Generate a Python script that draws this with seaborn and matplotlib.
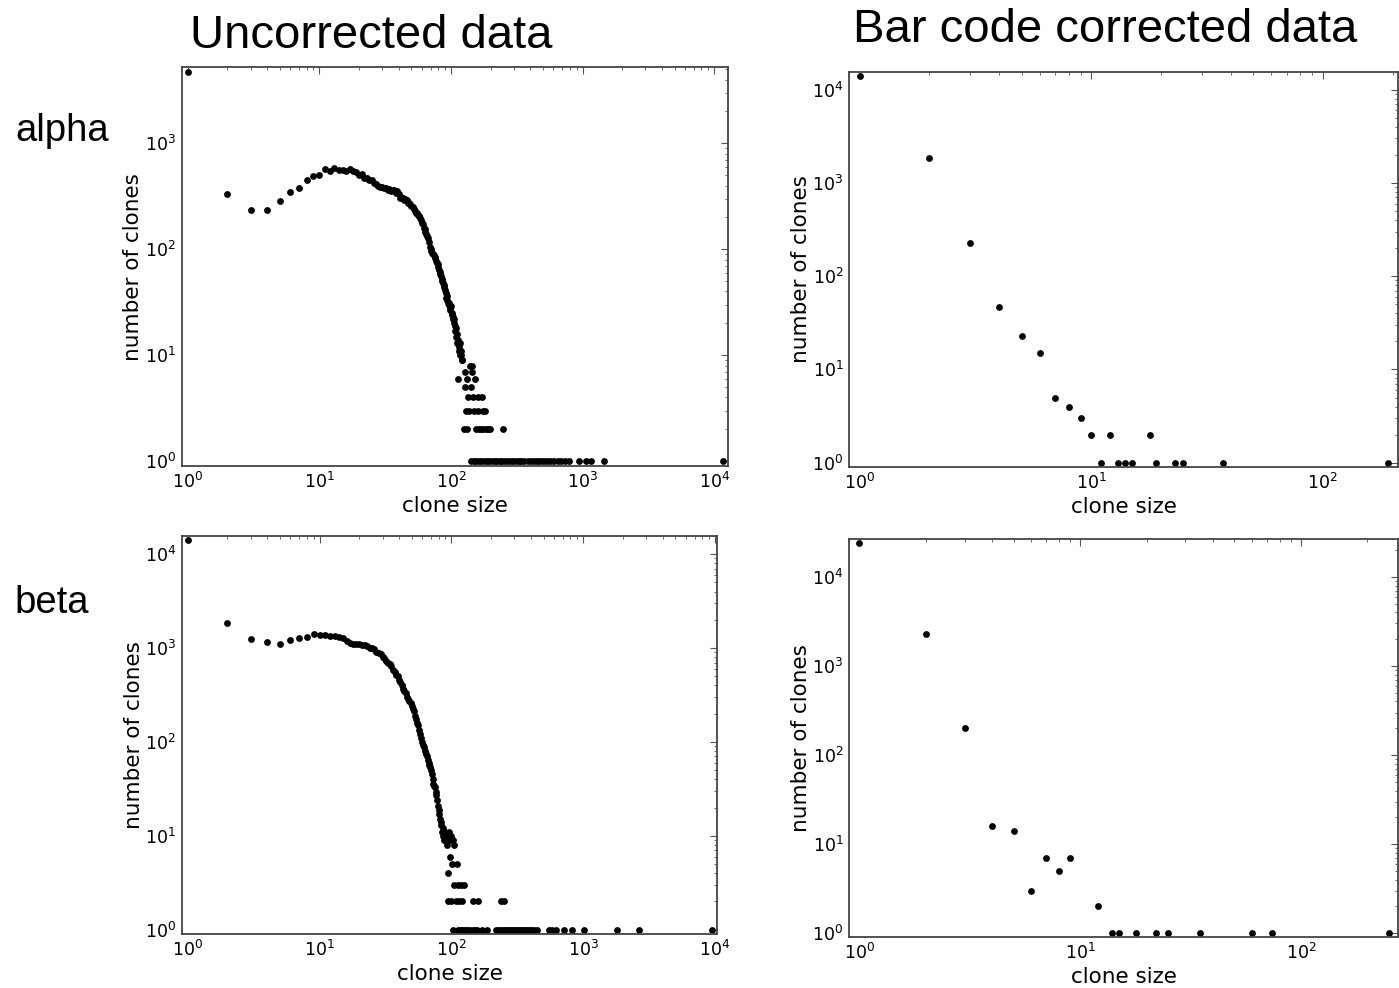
import pandas as pd
import seaborn as sns
import matplotlib.pyplot as plt

# ---- alpha, uncorrected: dense part (clone size -> number of clones)
alpha_raw_size = [
    1, 2, 3, 4, 5, 6, 7, 8, 9, 10, 11, 12, 13, 14, 15, 16, 17, 18, 19, 20,
    21, 22, 23, 24, 25, 26, 27, 28, 29, 30, 31, 32, 33, 34, 35, 36, 37, 38, 39, 40,
    41, 42, 43, 44, 45, 46, 47, 48, 49, 50, 51, 52, 53, 54, 55, 56, 57, 58, 59, 60,
    61, 62, 63, 64, 65, 66, 67, 68, 69, 70, 71, 72, 73, 74, 75, 76, 77, 78, 79, 80,
    81, 82, 83, 84, 85, 86, 87, 88, 89, 90, 91, 92, 93, 94, 95, 96, 97, 98, 99, 100,
    101, 102, 103, 104, 105, 106, 107, 108, 109, 110, 111, 112, 113,
    115, 116, 117, 118, 119, 120, 121, 122,
]
alpha_raw_count = [
    4740, 330, 237, 237, 286, 347, 382, 454, 495, 503, 569, 552, 585, 556, 563, 545, 573, 552, 532, 503,
    514, 471, 468, 448, 454, 422, 410, 400, 385, 388, 375, 380, 365, 370, 355, 365, 360, 340, 355, 330,
    305, 315, 305, 295, 297, 290, 276, 272, 268, 258, 250, 238, 229, 222, 218, 212, 205, 196, 190, 178,
    172, 160, 155, 146, 140, 134, 128, 117, 106, 100, 97, 93, 90, 88, 85, 82, 78, 75, 72, 68,
    64, 61, 58, 56, 53, 50, 48, 46, 44, 41, 39, 35, 33, 36, 31, 30, 31, 28, 27, 29,
    24, 25, 22, 23, 20, 22, 19, 17, 18, 15, 16, 13, 14,
    12, 11, 13, 10, 10, 11, 9, 9,
]
# alpha, uncorrected: low-count tail, number of clones -> clone sizes
alpha_raw_tail = {
    8: [139, 145],
    7: [127, 144],
    6: [114, 132, 151],
    5: [128, 141],
    4: [134, 147, 160, 172],
    3: [130, 138, 150, 161, 174, 182],
    2: [126, 133, 155, 162, 168, 176, 184, 190, 197, 247],
    1: [143, 149, 156, 163, 170, 179, 187, 196, 205, 215, 225, 236, 246, 259, 271,
        284, 298, 312, 327, 342, 359, 382, 405, 430, 447, 469, 491, 515, 542, 575,
        609, 646, 685, 734, 783, 944, 1060, 1157, 1461, 11570],
}

# ---- beta, uncorrected
beta_raw_size = [
    1, 2, 3, 4, 5, 6, 7, 8, 9, 10, 11, 12, 13, 14, 15, 16, 17, 18, 19, 20,
    21, 22, 23, 24, 25, 26, 27, 28, 29, 30, 31, 32, 33, 34, 35, 36, 37, 38, 39, 40,
    41, 42, 43, 44, 45, 46, 47, 48, 49, 50, 51, 52, 53, 54, 55, 56, 57, 58, 59, 60,
    61, 62, 63, 64, 65, 66, 67, 68, 69, 70, 71, 72, 73, 74, 75, 76, 77, 78, 79, 80,
    81, 82, 83, 84, 85, 86, 87, 88, 89, 90, 91, 92, 93, 96, 98, 100, 102, 104,
]
beta_raw_count = [
    14200, 1867, 1250, 1161, 1115, 1210, 1282, 1313, 1426, 1380,
    1375, 1345, 1330, 1315, 1290, 1180, 1123, 1105, 1110, 1105,
    1090, 1080, 1040, 1012, 1000, 986, 900, 880, 860, 800,
    780, 720, 700, 670, 640, 590, 560, 520, 500, 460,
    430, 400, 370, 345, 330, 300, 290, 270, 260, 240,
    225, 215, 190, 175, 160, 150, 135, 120, 110, 100,
    92, 88, 80, 74, 70, 64, 60, 57, 54, 50,
    46, 40, 36, 34, 33, 29, 27, 24, 21, 19,
    17, 15, 14, 13, 11, 12, 10, 9, 11, 9,
    10, 8, 10, 11, 9, 10, 9, 8,
]
beta_raw_tail = {
    6: [97],
    5: [101, 111],
    4: [94],
    3: [105, 112, 118, 125],
    2: [95, 99, 108, 115, 121, 145, 158, 238, 252],
    1: [103, 113, 116, 120, 124, 128, 133, 139, 146, 151, 157, 171, 187, 216, 224,
        232, 240, 249, 258, 267, 277, 287, 297, 308, 320, 331, 343, 356, 369, 382,
        396, 411, 426, 449, 550, 583, 618, 714, 826, 1014, 1815, 2650, 9440],
}

# ---- bar code corrected
alpha_bc_size = [1, 2, 3, 4, 5, 6, 7, 8, 9, 10, 11, 12, 13, 14, 15, 18, 19, 23, 25, 37, 192]
alpha_bc_count = [14100, 1830, 227, 47, 23, 15, 5, 4, 3, 2, 1, 2, 1, 1, 1, 2, 1, 1, 1, 1, 1]

beta_bc_size = [1, 2, 3, 4, 5, 6, 7, 8, 9, 12, 14, 15, 18, 22, 25, 35, 60, 74, 250]
beta_bc_count = [24000, 2300, 200, 16, 14, 3, 7, 5, 7, 2, 1, 1, 1, 1, 1, 1, 1, 1, 1]


def make_frame(sizes, counts, tail=None):
    df = pd.DataFrame({"clone size": sizes, "number of clones": counts})
    if tail:
        rows = [(s, c) for c, ss in tail.items() for s in ss]
        df = pd.concat([df, pd.DataFrame(rows, columns=df.columns)], ignore_index=True)
    return df


def draw(ax, df):
    sns.scatterplot(data=df, x="clone size", y="number of clones", ax=ax,
                    color="black", s=24, linewidth=0)
    ax.set_xscale("log")
    ax.set_yscale("log")
    ax.set_xlim(0.9, df["clone size"].max() * 1.1)
    ax.set_ylim(0.9, df["number of clones"].max() * 1.1)
    ax.tick_params(which="both", direction="in", top=True, right=True,
                   color="#555555", labelcolor="black", labelsize=12.5)
    ax.tick_params(which="major", length=5, width=0.8, pad=4)
    ax.tick_params(which="minor", length=2.5, width=0.6)
    for sp in ax.spines.values():
        sp.set_color("#444444")
        sp.set_linewidth(1.3)
    ax.set_xlabel("clone size", fontsize=15.5, color="black")
    ax.set_ylabel("number of clones", fontsize=15.5, color="black")
    ax.xaxis.set_label_coords(0.5, -0.075)
    ax.yaxis.set_label_coords(-0.07, 0.5)


sns.set_theme(style="white")
plt.rcParams["font.family"] = ["DejaVu Sans"]
plt.rcParams["text.color"] = "black"

fig = plt.figure(figsize=(13.99, 9.88), dpi=100)
ax_a_raw = fig.add_axes([0.1299, 0.5283, 0.3905, 0.4035])
ax_a_bc = fig.add_axes([0.6069, 0.5273, 0.3924, 0.4001])
ax_b_raw = fig.add_axes([0.1299, 0.0547, 0.3828, 0.4028])
ax_b_bc = fig.add_axes([0.6069, 0.0513, 0.3924, 0.4028])

draw(ax_a_raw, make_frame(alpha_raw_size, alpha_raw_count, alpha_raw_tail))
draw(ax_a_bc, make_frame(alpha_bc_size, alpha_bc_count))
draw(ax_b_raw, make_frame(beta_raw_size, beta_raw_count, beta_raw_tail))
draw(ax_b_bc, make_frame(beta_bc_size, beta_bc_count))

title_font = ["Liberation Sans", "DejaVu Sans"]
fig.text(0.265, 0.9514, "Uncorrected data", ha="center", va="baseline",
         fontsize=34, family=title_font, color="black")
fig.text(0.790, 0.9575, "Bar code corrected data", ha="center", va="baseline",
         fontsize=34, family=title_font, color="black")
fig.text(0.0107, 0.857, "alpha", ha="left", va="baseline", fontsize=27.5,
         family=title_font, color="black")
fig.text(0.0107, 0.3796, "beta", ha="left", va="baseline", fontsize=27.5,
         family=title_font, color="black")

fig.savefig("out.png", dpi=100)
